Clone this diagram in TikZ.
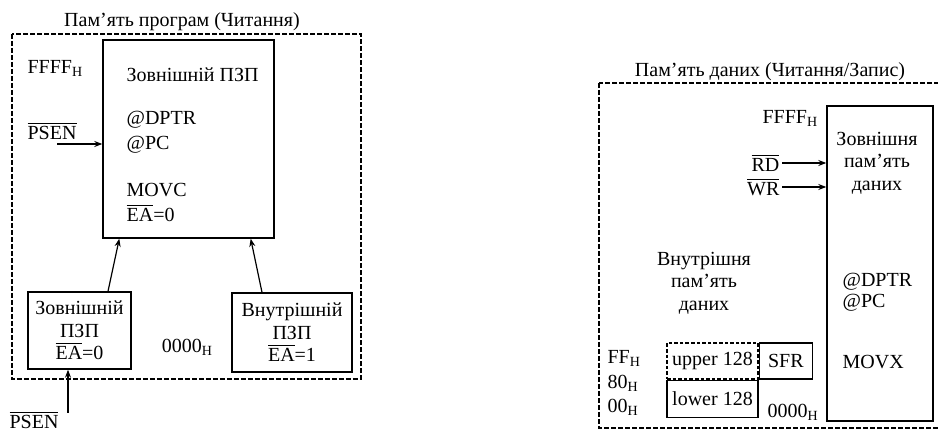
\documentclass[tikz,border=0pt]{standalone}
\usepackage{fontspec}
\setmainfont{Liberation Serif}
\usetikzlibrary{arrows.meta,positioning}
\newcommand{\hexh}[1]{#1\textsubscript{H}}
\newcommand{\negsig}[1]{$\overline{\mbox{#1}}$}

\begin{document}
\begin{tikzpicture}[x=0.5pt,y=-0.5pt,
    memframe/.style={draw, line width=1.1pt, dash pattern=on 2.4pt off 1.1pt},
    membox/.style={draw, line width=0.7pt, inner sep=0pt, align=center,
        font=\fontsize{10}{11.2}\selectfont},
    txt/.style={inner sep=0pt, align=center, font=\fontsize{10}{11.2}\selectfont},
    every path/.style={line width=0.6pt},
    >={Stealth[length=4pt,width=3pt]}
]
\useasboundingbox (0,0) rectangle (938,432);

% program memory
\draw[memframe] (12,34) rectangle (361,379);
\node[txt] (progtitle) at (182,22) {Пам’ять програм (Читання)};
\node[membox, minimum width=85.5pt, minimum height=99pt] (rom) at (188.5,139) {};
\node[txt, anchor=west] (romname) at (126,75) {Зовнішній ПЗП};
\node[txt, anchor=west] (romdptr) at (126,120) {@DPTR};
\node[txt, anchor=west] (rompc) at (126,145) {@PC};
\node[txt, anchor=west] (rommovc) at (126,190) {MOVC};
\node[txt, anchor=west] (romea) at (126,213) {\negsig{EA}=0};
\node[txt, anchor=west] (romtop) at (27,68) {\hexh{FFFF}};
\node[txt, anchor=west] (psenA) at (27,131) {\negsig{PSEN}};
\coordinate (psenAin) at (57,144);
\draw[->] (psenAin) -- (psenAin -| rom.west);

\node[membox, minimum width=51.5pt, minimum height=38.5pt] (xrom) at (79.5,330.5)
    {Зовнішній\\ПЗП\\\negsig{EA}=0};
\node[membox, minimum width=60pt, minimum height=39.5pt] (irom) at (292,332.5)
    {Внутрішній\\ПЗП\\\negsig{EA}=1};
\node[txt] (rombot) at (187.5,347) {\hexh{0000}};
\draw[->] ([xshift=14.25pt]xrom.north) -- ([xshift=8.5pt]rom.south west);
\draw[->] ([xshift=-15pt]irom.north) -- ([xshift=-12pt]rom.south east);
\node[txt] (psenB) at (34,420) {\negsig{PSEN}};
\coordinate (psenBout) at (68,413);
\draw[->] (psenBout) -- (psenBout |- xrom.south);

% data memory
\draw[memframe] (599,83) rectangle (942,428);
\node[txt] (datatitle) at (770,72) {Пам’ять даних (Читання/Запис)};
\node[membox, minimum width=53pt, minimum height=157.5pt] (xram) at (880,263.5) {};
\node[txt] (xramname) at (877,163) {Зовнішня\\пам’ять\\даних};
\node[txt, anchor=west] (ramtop) at (762,118) {\hexh{FFFF}};
\node[txt, anchor=east] (rd) at (780,163) {\negsig{RD}};
\node[txt, anchor=east] (wr) at (780,187) {\negsig{WR}};
\draw[->] ([xshift=1pt]rd.east) -- (rd.east -| xram.west);
\draw[->] ([xshift=1pt]wr.east) -- (wr.east -| xram.west);
\node[txt, anchor=west] (ramdptr) at (842,282) {@DPTR};
\node[txt, anchor=west] (rampc) at (842,303) {@PC};
\node[txt, anchor=west] (rammovx) at (842,362) {MOVX};

\node[txt] (iramname) at (704,283) {Внутрішня\\пам’ять\\даних};
\node[membox, dash pattern=on 1.8pt off 1pt, minimum width=45.5pt,
      minimum height=18pt] (upper) at (712.5,361) {upper 128};
\node[membox, right=0pt of upper, minimum width=26.5pt, minimum height=18pt] (sfr) {SFR};
\node[membox, below=0pt of upper, minimum width=45.5pt, minimum height=18.5pt] (lower) {lower 128};
\node[txt, anchor=west] (iramff) at (607,358) {\hexh{FF}};
\node[txt, anchor=west] (iram80) at (607,383) {\hexh{80}};
\node[txt, anchor=west] (iram00) at (607,407) {\hexh{00}};
\node[txt, anchor=west] (rambot) at (767,412) {\hexh{0000}};
\end{tikzpicture}
\end{document}
